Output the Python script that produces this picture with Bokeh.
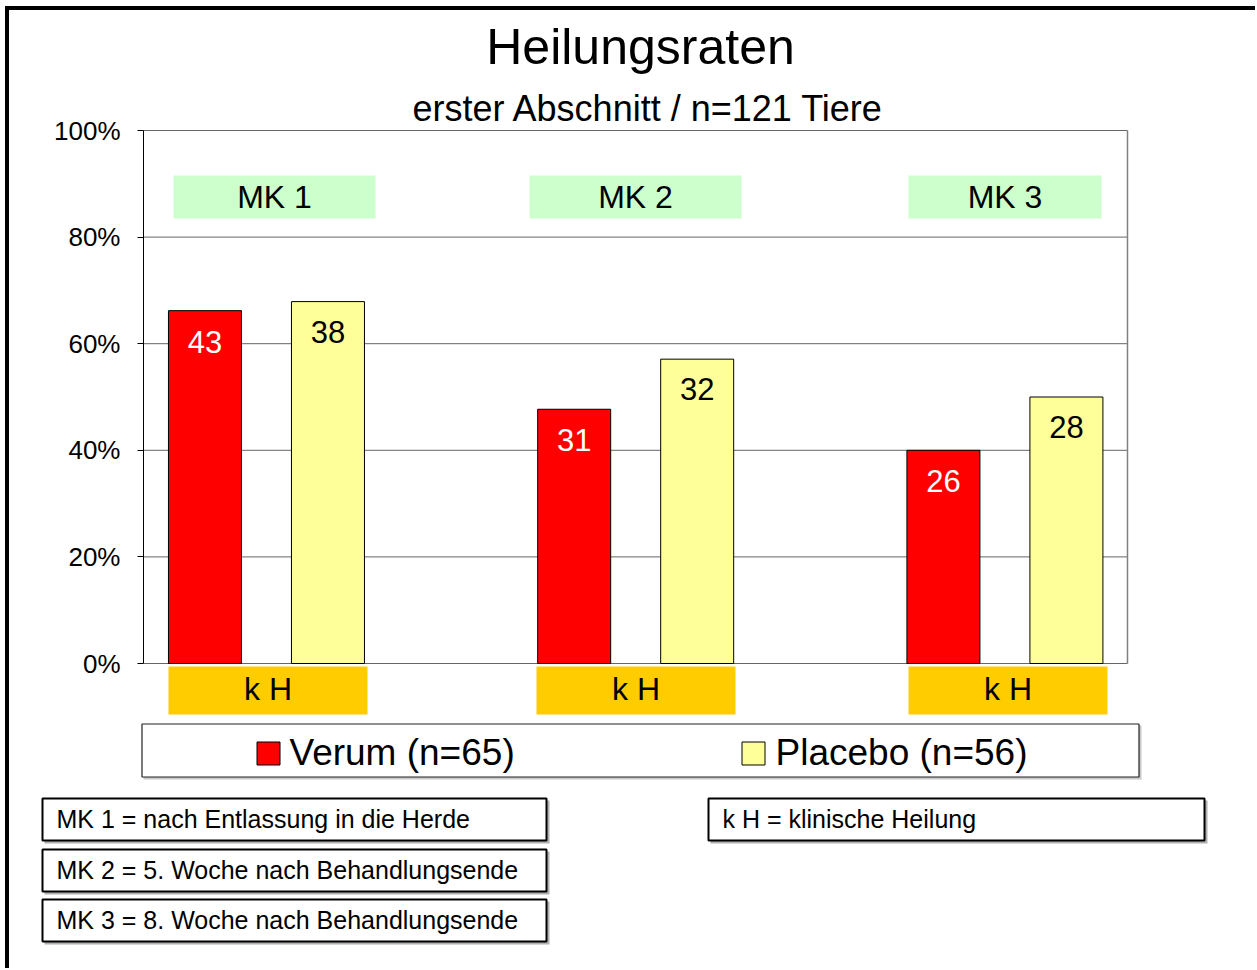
from bokeh.plotting import figure
from bokeh.layouts import column
from bokeh.models import Range1d, PrintfTickFormatter, FixedTicker
from bokeh.core.properties import value
from bokeh.embed import file_html
from bokeh.resources import INLINE

# ---------------- data ----------------
groups = ["MK 1", "MK 2", "MK 3"]
group_x = [1, 2, 3]
verum_pct = [66.2, 47.7, 40.0]
placebo_pct = [67.9, 57.1, 50.0]
verum_count = [43, 31, 26]
placebo_count = [38, 32, 28]
series_names = ["Verum (n=65)", "Placebo (n=56)"]
y_ticks = [0, 20, 40, 60, 80, 100]
bottom_label = "k H"
notes_left = ["MK 1 = nach Entlassung in die Herde",
              "MK 2 = 5. Woche nach Behandlungsende",
              "MK 3 = 8. Woche nach Behandlungsende"]
note_right = "k H = klinische Heilung"
title_text = "Heilungsraten"
subtitle_text = "erster Abschnitt / n=121 Tiere"

# ---------------- style / layout ----------------
FONT = "Liberation Sans"
RED = "#FF0000"
PALE = "#FFFF99"
GREEN = "#CCFFCC"
ORANGE = "#FFCC00"

ORX, ORY = 9, 10            # page position of the figures (after css border)
WA = 1246                   # width of both figures
SPLIT = 718                 # page y where the upper figure ends
BOTTOM = 968                # page y where the lower figure ends
FL, FR, FT, FB = 143, 1127, 130, 663  # chart area edges in page px
X0, X1 = 0.667, 3.332
Y0, Y1 = 0.0, 100.0


def X(px):
    return X0 + (px - FL) * (X1 - X0) / (FR - FL)


def Y(py):
    return Y0 + (FB - py) * (Y1 - Y0) / (FB - FT)


DX = (X1 - X0) / (FR - FL)
BAR_OFF = 61.5 * DX
BAR_W = 73 * DX

# ================= upper figure: titles + chart =================
p = figure(width=WA, height=SPLIT - ORY,
           min_border_left=FL - ORX, min_border_right=0,
           min_border_top=0, min_border_bottom=0,
           x_range=Range1d(X(FL), X(ORX + WA)),
           y_range=Range1d(Y(SPLIT), Y(ORY)),
           x_axis_type=None, output_backend="svg", toolbar_location=None,
           background_fill_color="white", border_fill_color="white")
p.frame_align = False
p.outline_line_color = None
p.ygrid.visible = False

yax = p.yaxis[0]
yax.ticker = FixedTicker(ticks=y_ticks)
yax.formatter = PrintfTickFormatter(format="%d%%")
yax.bounds = (Y0, Y1)
yax.axis_line_color = "black"
yax.axis_line_width = 1
yax.major_tick_line_color = "black"
yax.major_tick_out = 6
yax.major_tick_in = 0
yax.minor_tick_line_color = None
yax.major_label_text_font = FONT
yax.major_label_text_font_size = "26px"
yax.major_label_text_color = "black"
yax.major_label_standoff = 17

# grid lines + plot-area border (limited to the chart area)
p.segment(x0=X0, x1=X1, y0=y_ticks, y1=y_ticks, line_color="#666666", line_width=1)
p.segment(x0=X1, x1=X1, y0=Y0, y1=Y1, line_color="#808080", line_width=1.5)

# bars
vx = [g - BAR_OFF for g in group_x]
px_ = [g + BAR_OFF for g in group_x]
p.vbar(x=vx, top=verum_pct, bottom=0, width=BAR_W, fill_color=RED,
       line_color="black", line_width=1)
p.vbar(x=px_, top=placebo_pct, bottom=0, width=BAR_W, fill_color=PALE,
       line_color="black", line_width=1)
p.text(x=vx, y=verum_pct, text=[str(c) for c in verum_count],
       text_align="center", text_baseline="middle", y_offset=31,
       text_font=value(FONT), text_font_size="31px", text_color="white")
p.text(x=px_, y=placebo_pct, text=[str(c) for c in placebo_count],
       text_align="center", text_baseline="middle", y_offset=30,
       text_font=value(FONT), text_font_size="31px", text_color="black")

# MK boxes inside the plot area
mk_box_px = [(173, 375), (529, 741), (908, 1101)]
p.quad(left=[X(a) for a, b in mk_box_px], right=[X(b) for a, b in mk_box_px],
       top=Y(175), bottom=Y(218), fill_color=GREEN, line_color=None)
p.text(x=[X((a + b) / 2) for a, b in mk_box_px], y=Y(196), text=groups,
       text_align="center", text_baseline="middle",
       text_font=value(FONT), text_font_size="32px", text_color="black")

# kH boxes under the groups
kh_box_px = [(168, 367), (536, 735), (908, 1107)]
p.quad(left=[X(a) for a, b in kh_box_px], right=[X(b) for a, b in kh_box_px],
       top=Y(666), bottom=Y(714), fill_color=ORANGE, line_color=None)
p.text(x=[X((a + b) / 2) for a, b in kh_box_px], y=Y(688.5),
       text=[bottom_label] * len(kh_box_px),
       text_align="center", text_baseline="middle",
       text_font=value(FONT), text_font_size="32px", text_color="black")

# titles
p.text(x=[X(640)], y=[Y(46)], text=[title_text], text_align="center",
       text_baseline="middle", text_font=value(FONT), text_font_size="50px",
       text_color="black")
p.text(x=[X(648)], y=[Y(108)], text=[subtitle_text], text_align="center",
       text_baseline="middle", text_font=value(FONT), text_font_size="36px",
       text_color="black")

# ================= lower figure: legend + notes (page px) =================
q = figure(width=WA, height=BOTTOM - SPLIT,
           min_border_left=0, min_border_right=0,
           min_border_top=0, min_border_bottom=0,
           x_range=Range1d(ORX, ORX + WA), y_range=Range1d(BOTTOM, SPLIT),
           x_axis_type=None, y_axis_type=None, output_backend="svg",
           toolbar_location=None, background_fill_color="white",
           border_fill_color="white")
q.frame_align = False
q.outline_line_color = None
q.grid.visible = False


def tq(x, y, text, size, align="left"):
    q.text(x=[x], y=[y], text=[text], text_align=align, text_baseline="middle",
           text_font=value(FONT), text_font_size=size, text_color="black")


# legend
q.quad(left=143, right=1141, top=725, bottom=779, fill_color="#C8C8C8", line_color=None)
q.quad(left=141.5, right=1138.5, top=723.5, bottom=776.5, fill_color="white",
       line_color="#222222", line_width=1.2)
q.quad(left=256.5, right=279.5, top=741.5, bottom=764.5, fill_color=RED,
       line_color="black", line_width=1)
tq(289, 752, series_names[0], "37px")
q.quad(left=741.5, right=764.5, top=741.5, bottom=764.5, fill_color=PALE,
       line_color="black", line_width=1)
tq(775, 752, series_names[1], "37px")

# notes
note_rows = [(797, 841), (848, 892), (898, 942)]
for (t, b), txt in zip(note_rows, notes_left):
    q.quad(left=44, right=549, top=t + 3, bottom=b + 2, fill_color="#B0B0B0", line_color=None)
    q.quad(left=42, right=546, top=t + 1, bottom=b - 1, fill_color="white",
           line_color="black", line_width=2)
    tq(56, (t + b) / 2 - 0.5, txt, "25px")
q.quad(left=710, right=1207, top=800, bottom=843, fill_color="#B0B0B0", line_color=None)
q.quad(left=708, right=1204, top=798, bottom=840, fill_color="white",
       line_color="black", line_width=2)
tq(722, 818.5, note_right, "25px")

layout = column(p, q, spacing=0,
                styles={"margin-left": "5px", "margin-top": "6px",
                        "border-left": "4px solid black",
                        "border-top": "4px solid black"})

open("out.html", "w").write(file_html(layout, INLINE))
